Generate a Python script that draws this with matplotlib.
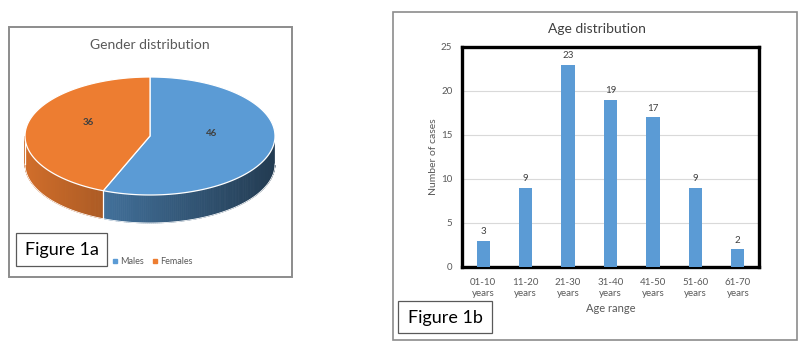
import numpy as np
import matplotlib
matplotlib.use("Agg")
import matplotlib.pyplot as plt
from matplotlib.patches import Polygon, Rectangle

plt.rcParams['font.family'] = ['Lato', 'DejaVu Sans']

# ---- data ----
gender_labels = ["Males", "Females"]
gender_values = [46, 36]
gender_colors = ["#5B9BD5", "#ED7D31"]

age_ranges = ["01-10\nyears", "11-20\nyears", "21-30\nyears", "31-40\nyears",
              "41-50\nyears", "51-60\nyears", "61-70\nyears"]
age_counts = [3, 9, 23, 19, 17, 9, 2]
y_ticks = [0, 5, 10, 15, 20, 25]

W, H = 803, 351
fig = plt.figure(figsize=(W / 100, H / 100), dpi=100)
bg = fig.add_axes([0, 0, 1, 1])
bg.set_xlim(0, W)
bg.set_ylim(H, 0)
bg.axis('off')

# panel boxes
bg.add_patch(Rectangle((9, 27), 283, 250, fill=False, ec="#8c8c8c", lw=1.4))
bg.add_patch(Rectangle((393, 12), 404, 328, fill=False, ec="#8c8c8c", lw=1.2))

# ---- 3D pie ----
cx, cy, a, b, depth = 150, 136, 125, 59, 28
total = sum(gender_values)
bounds = np.concatenate([[0], np.cumsum(gender_values) / total * 360])


def pt(theta_deg, dy=0):
    t = np.radians(theta_deg)
    return cx + a * np.sin(t), cy - b * np.cos(t) + dy


def shade(color, x):
    rgb = np.array(matplotlib.colors.to_rgb(color))
    f = 0.88 - (x - 25) / 251 * 0.50
    return tuple(np.clip(rgb * f, 0, 1))


# side walls (visible front: theta in [90, 270])
for i, col in enumerate(gender_colors):
    t0, t1 = bounds[i], bounds[i + 1]
    lo, hi = max(t0, 90), min(t1, 270)
    if hi <= lo:
        continue
    ts = np.linspace(lo, hi, 120)
    for j in range(len(ts) - 1):
        x0, y0 = pt(ts[j])
        x1, y1 = pt(ts[j + 1])
        c = shade(col, (x0 + x1) / 2)
        bg.add_patch(Polygon([(x0, y0), (x1, y1), (x1, y1 + depth), (x0, y0 + depth)],
                             closed=True, fc=c, ec=c, lw=0.6, zorder=2))
    xs, ys = zip(*[pt(t, depth) for t in ts])
    bg.plot(xs, ys, color="white", lw=0.6, zorder=3)

# vertical edges of side
for t in [90, 270] + [bd for bd in bounds[1:-1] if 90 < bd < 270]:
    x0, y0 = pt(t)
    bg.plot([x0, x0], [y0, y0 + depth], color="white", lw=0.9, zorder=3)

# top faces
for i, col in enumerate(gender_colors):
    ts = np.linspace(bounds[i], bounds[i + 1], 200)
    verts = [(cx, cy)] + [pt(t) for t in ts]
    bg.add_patch(Polygon(verts, closed=True, fc=col, ec="white", lw=0.9, zorder=4))

# value labels
for i, v in enumerate(gender_values):
    mid = (bounds[i] + bounds[i + 1]) / 2
    r = 0.5
    t = np.radians(mid)
    lx, ly = cx + r * a * np.sin(t), cy - r * b * np.cos(t) - 8
    bg.text(lx, ly, str(v), fontsize=7, color="#404040", ha="center", va="center",
            fontweight="bold", zorder=5)

bg.text(150, 45, "Gender distribution", fontsize=10, color="#595959",
        ha="center", va="center")

# legend
lx = 115
for lab, col in zip(gender_labels, gender_colors):
    bg.plot(lx, 261, marker="s", ms=2.2, color=col, zorder=5)
    bg.text(lx + 5, 261, lab, fontsize=6.5, color="#595959", va="center", ha="left")
    lx += 40

# Figure 1a box
bg.add_patch(Rectangle((16, 233), 91, 33, fill=True, fc="white", ec="#595959", lw=0.9, zorder=5))
bg.text(61.5, 249.5, "Figure 1a", fontsize=13, color="black", ha="center", va="center", zorder=6)

# ---- bar chart ----
ax = fig.add_axes([462 / W, 1 - 267 / H, 297 / W, 220 / H])
x = np.arange(len(age_counts))
ax.bar(x, age_counts, width=0.31, color="#5B9BD5", zorder=3)
ax.set_xlim(-0.5, len(age_counts) - 0.5)
ax.set_ylim(0, 25)
ax.set_yticks(y_ticks)
ax.set_xticks(x)
ax.set_xticklabels(age_ranges, fontsize=7, color="#595959", linespacing=1.25)
ax.tick_params(axis='y', labelsize=7, labelcolor="#595959", length=0, pad=7)
ax.tick_params(axis='x', length=0, pad=8)
ax.grid(axis='y', color="#D9D9D9", lw=0.8, zorder=0)
for s in ax.spines.values():
    s.set_linewidth(2.4)
    s.set_color("black")
for xi, v in zip(x, age_counts):
    ax.text(xi, v + 0.5, str(v), ha="center", va="bottom", fontsize=7, color="#404040")
ax.set_ylabel("Number of cases", fontsize=7.5, color="#595959", labelpad=2)
ax.set_xlabel("Age range", fontsize=8, color="#595959", labelpad=4)

bg.text(597, 29, "Age distribution", fontsize=10, color="#404040", ha="center", va="center")

# Figure 1b box
bg.add_patch(Rectangle((398, 301), 94, 32, fill=True, fc="white", ec="#595959", lw=0.9, zorder=5))
bg.text(445, 317.5, "Figure 1b", fontsize=13, color="black", ha="center", va="center", zorder=6)

fig.savefig("out.png", dpi=100)
